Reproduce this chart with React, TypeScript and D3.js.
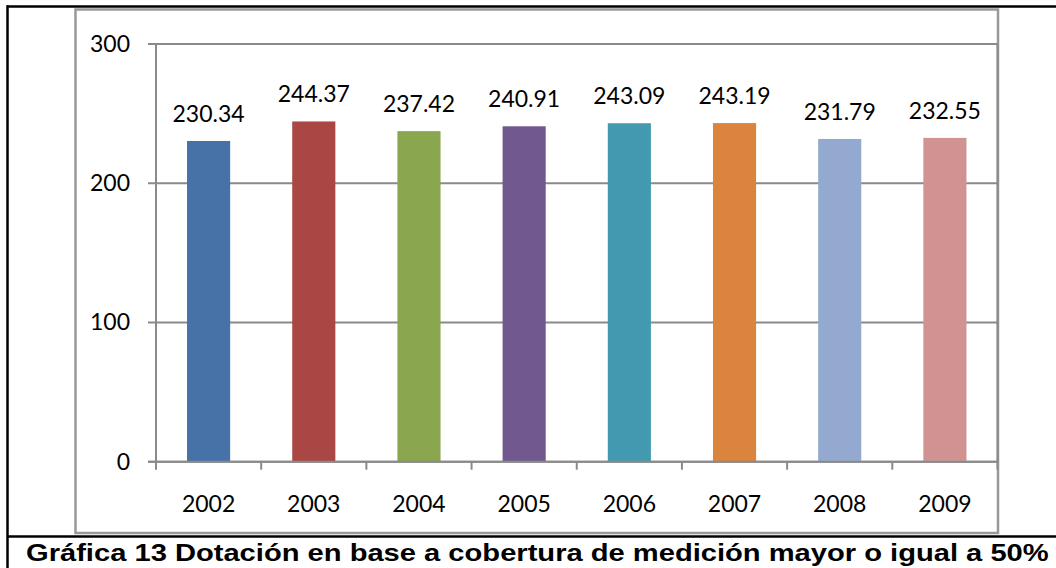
import React from "react";
import * as d3 from "d3";

const categories = ["2002", "2003", "2004", "2005", "2006", "2007", "2008", "2009"];
const values = [230.34, 244.37, 237.42, 240.91, 243.09, 243.19, 231.79, 232.55];
const barColors = ["#4672A8", "#AA4744", "#8AA64F", "#71598F", "#4399B0", "#DB843D", "#94A9CF", "#D19392"];
const yTicks = [0, 100, 200, 300];
const caption = "Gráfica 13 Dotación en base a cobertura de medición mayor o igual a 50%";

const W = 1056;
const H = 568;
const plot = { left: 156, right: 997.5, top: 44, bottom: 461.7 };

export default function App() {
  const x = d3.scaleBand<string>().domain(categories).range([plot.left, plot.right]).padding(0);
  const y = d3.scaleLinear().domain([0, 300]).range([plot.bottom, plot.top]);
  const bw = x.bandwidth() * 0.41;
  const font = "Lato, 'Open Sans', sans-serif";
  const grid = "#8a8a8a";
  const boundaries = categories.map((c) => x(c) as number).concat([plot.right]);
  const captionRef = React.useRef<SVGTextElement>(null);
  const [sx, setSx] = React.useState(1);

  React.useLayoutEffect(() => {
    if (captionRef.current) {
      const w = captionRef.current.getComputedTextLength();
      if (w > 0) setSx(1023 / w);
    }
  }, []);

  return (
    <svg
      width={W}
      height={H}
      style={{ position: "absolute", left: 0, top: 0, background: "#fff" }}
    >
      {/* outer black frame */}
      <line x1={7} y1={6.5} x2={W} y2={6.5} stroke="#000" strokeWidth={2.5} />
      <line x1={7.5} y1={5.3} x2={7.5} y2={H} stroke="#000" strokeWidth={2.5} />
      <line x1={7} y1={536.5} x2={W} y2={536.5} stroke="#000" strokeWidth={2.5} />

      {/* chart area border */}
      <rect x={75.5} y={9.5} width={922.5} height={523.5} fill="#fff" stroke="#999" strokeWidth={2.5} />

      {/* gridlines */}
      {yTicks.map((t) => (
        <line key={"g" + t} x1={plot.left - 8} x2={plot.right} y1={y(t)} y2={y(t)} stroke={grid} strokeWidth={2} />
      ))}
      {/* plot borders */}
      <line x1={plot.left} x2={plot.left} y1={plot.top} y2={plot.bottom} stroke={grid} strokeWidth={2} />
      <line x1={plot.right} x2={plot.right} y1={plot.top} y2={plot.bottom} stroke={grid} strokeWidth={2} />

      {/* x ticks */}
      {boundaries.map((b, i) => (
        <line key={"xt" + i} x1={b} x2={b} y1={plot.bottom} y2={plot.bottom + 8} stroke={grid} strokeWidth={2} />
      ))}

      {/* bars */}
      {categories.map((c, i) => {
        const cx = (x(c) as number) + x.bandwidth() / 2;
        return (
          <rect
            key={"b" + c}
            x={cx - bw / 2}
            y={y(values[i])}
            width={bw}
            height={y(0) - y(values[i])}
            fill={barColors[i]}
          />
        );
      })}

      {/* redraw zero axis over bars */}
      <line x1={plot.left - 8} x2={plot.right} y1={y(0)} y2={y(0)} stroke={grid} strokeWidth={2} />

      {/* data labels */}
      {categories.map((c, i) => (
        <text
          key={"l" + c}
          x={(x(c) as number) + x.bandwidth() / 2}
          y={y(values[i]) - 19}
          textAnchor="middle"
          fontFamily={font}
          fontSize={23}
          fill="#000"
        >
          {values[i].toFixed(2)}
        </text>
      ))}

      {/* y tick labels */}
      {yTicks.map((t) => (
        <text key={"yl" + t} x={130} y={y(t) + 8} textAnchor="end" fontFamily={font} fontSize={23} fill="#000">
          {t}
        </text>
      ))}

      {/* x labels */}
      {categories.map((c) => (
        <text
          key={"xl" + c}
          x={(x(c) as number) + x.bandwidth() / 2}
          y={512}
          textAnchor="middle"
          fontFamily={font}
          fontSize={23}
          fill="#000"
        >
          {c}
        </text>
      ))}

      {/* caption */}
      <g transform={`translate(26,561) scale(${sx},1)`}>
        <text
          ref={captionRef}
          x={0}
          y={0}
          fontFamily="'Liberation Sans', Arial, sans-serif"
          fontWeight="bold"
          fontSize={23}
          fill="#000"
        >
          {caption}
        </text>
      </g>
    </svg>
  );
}
